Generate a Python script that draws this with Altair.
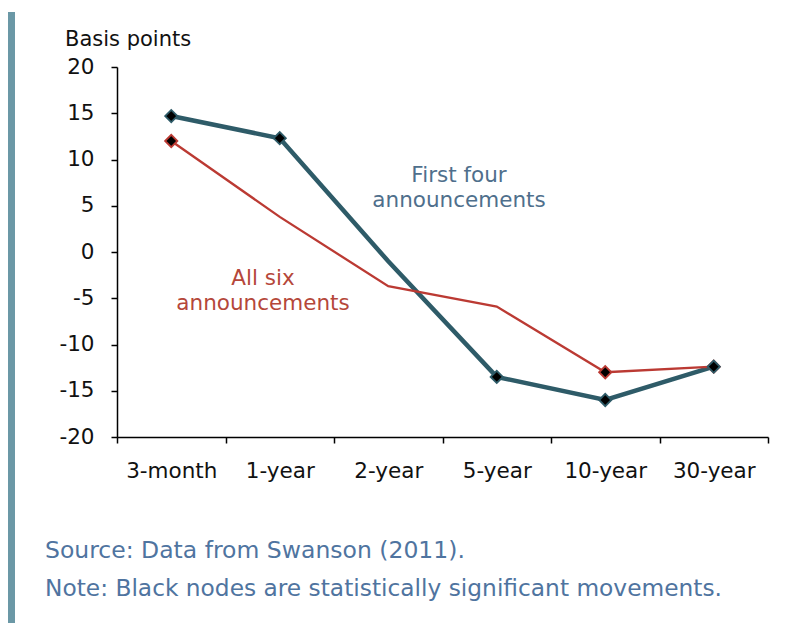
import altair as alt
import pandas as pd

categories = ["3-month", "1-year", "2-year", "5-year", "10-year", "30-year"]
first_four = [14.7, 12.3, -1.0, -13.5, -16.0, -12.4]
first_four_sig = [True, True, False, True, True, True]
all_six = [12.0, 3.8, -3.7, -5.9, -13.0, -12.4]
all_six_sig = [True, False, False, False, True, True]
y_ticks = [-20, -15, -10, -5, 0, 5, 10, 15, 20]

TEAL = "#2e5b68"
RED = "#bb3a33"
FONT = "DejaVu Sans"

df_four = pd.DataFrame({"cat": categories, "val": first_four, "sig": first_four_sig})
df_six = pd.DataFrame({"cat": categories, "val": all_six, "sig": all_six_sig})

x_enc = alt.X(
    "cat:N",
    sort=categories,
    scale=alt.Scale(type="band", domain=categories, paddingInner=0, paddingOuter=0),
    axis=alt.Axis(
        title=None, labelAngle=0, tickBand="extent", tickSize=6, tickColor="#000",
        domainColor="#000", domainWidth=1.5, tickWidth=1.5, labelFont=FONT,
        labelFontSize=21.5, labelColor="#111", labelPadding=17, grid=False,
    ),
)
y_enc = alt.Y(
    "val:Q",
    scale=alt.Scale(domain=[-20, 20], nice=False),
    axis=alt.Axis(
        title=None, values=y_ticks, tickSize=6, tickColor="#000", domainColor="#000",
        domainWidth=1.5, tickWidth=1.5, labelFont=FONT, labelFontSize=21.5,
        labelColor="#111", labelPadding=17, grid=False,
        labelExpr="replace(datum.label, '\u2212', '-')",
    ),
)

line_four = alt.Chart(df_four).mark_line(color=TEAL, strokeWidth=4.5).encode(x=x_enc, y=y_enc)
line_six = alt.Chart(df_six).mark_line(color=RED, strokeWidth=2.3).encode(x=x_enc, y=y_enc)
pts_six = alt.Chart(df_six).transform_filter("datum.sig").mark_point(
    shape="diamond", filled=True, fill="#000", stroke=RED, strokeWidth=1.8, size=150, opacity=1
).encode(x=x_enc, y=y_enc)
pts_four = alt.Chart(df_four).transform_filter("datum.sig").mark_point(
    shape="diamond", filled=True, fill="#000", stroke=TEAL, strokeWidth=1.8, size=150, opacity=1
).encode(x=x_enc, y=y_enc)

one = pd.DataFrame({"a": [0]})

def txt(text, x, y, color, size, align="left", baseline="middle"):
    return alt.Chart(one).mark_text(
        text=text, font=FONT, fontSize=size, color=color, align=align, baseline=baseline
    ).encode(x=alt.value(x), y=alt.value(y))

left_bar = alt.Chart(one).mark_rule(color="#6b98a6", strokeWidth=7).encode(
    x=alt.value(-105.5), y=alt.value(-55), y2=alt.value(620)
)

annotations = [
    txt("Basis points", -52, -27, "#111", 21),
    txt("First four", 342, 109, "#4f6f8c", 21.5, align="center"),
    txt("announcements", 342, 134, "#4f6f8c", 21.5, align="center"),
    txt("All six", 146, 212, "#b5473a", 21.5, align="center"),
    txt("announcements", 146, 237, "#b5473a", 21.5, align="center"),
    txt("Source: Data from Swanson (2011).", -72, 484, "#4f74a0", 23.5),
    txt("Note: Black nodes are statistically significant movements.", -72, 522, "#4f74a0", 23.3),
]

chart = alt.layer(
    left_bar, line_four, line_six, pts_six, pts_four, *annotations
).properties(
    width=651, height=370,
    autosize=alt.AutoSizeParams(type="none"),
    padding={"left": 109, "top": 59, "right": 9, "bottom": 186},
).configure(background="white").configure_view(stroke=None)

chart.save("out.html", embed_options={"renderer": "svg", "actions": False})
